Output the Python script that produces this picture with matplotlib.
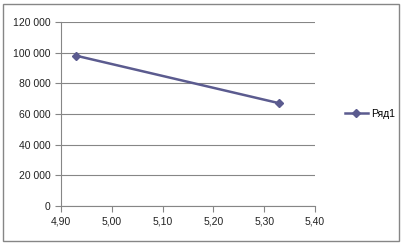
import matplotlib
matplotlib.use("Agg")
import matplotlib.pyplot as plt
from matplotlib.patches import Rectangle
from matplotlib.ticker import FuncFormatter

# data
x = [4.93, 5.33]
y = [98000, 67000]
series_name = "Ряд1"
xticks = [4.90, 5.00, 5.10, 5.20, 5.30, 5.40]
yticks = [0, 20000, 40000, 60000, 80000, 100000, 120000]

plt.rcParams['font.family'] = ['Liberation Sans', 'DejaVu Sans']
plt.rcParams['font.size'] = 7.5

fig = plt.figure(figsize=(4.04, 2.46), dpi=100)
fig.patches.append(Rectangle((3 / 404, 1 - 241 / 246), 396 / 404, 237 / 246,
                             transform=fig.transFigure, fill=False,
                             edgecolor='#868686', linewidth=1.0))
ax = fig.add_axes([61 / 404, 1 - 206 / 246, 254 / 404, 184 / 246])

ax.plot(x, y, color='#5B5B8F', linewidth=1.8, marker='D', markersize=4.5,
        label=series_name)

ax.set_xlim(4.90, 5.40)
ax.set_ylim(0, 120000)
ax.set_xticks(xticks)
ax.set_yticks(yticks)
ax.xaxis.set_major_formatter(FuncFormatter(lambda v, p: f"{v:.2f}".replace('.', ',')))
ax.yaxis.set_major_formatter(FuncFormatter(lambda v, p: f"{int(round(v)):,}".replace(',', ' ')))
ax.grid(axis='y', color='#868686', linewidth=0.8)
ax.set_axisbelow(True)

for s in ['top', 'right']:
    ax.spines[s].set_visible(False)
for s in ['left', 'bottom']:
    ax.spines[s].set_color('#868686')
    ax.spines[s].set_linewidth(0.8)
ax.tick_params(axis='both', colors='#868686', length=4, width=0.8,
               labelcolor='#222222', labelsize=7.5)

ax.legend(loc='center left', bbox_to_anchor=(1.08, 0.5), frameon=False,
          fontsize=7.5, handlelength=2.2, handletextpad=0.3)

fig.savefig("out.png", dpi=100)
